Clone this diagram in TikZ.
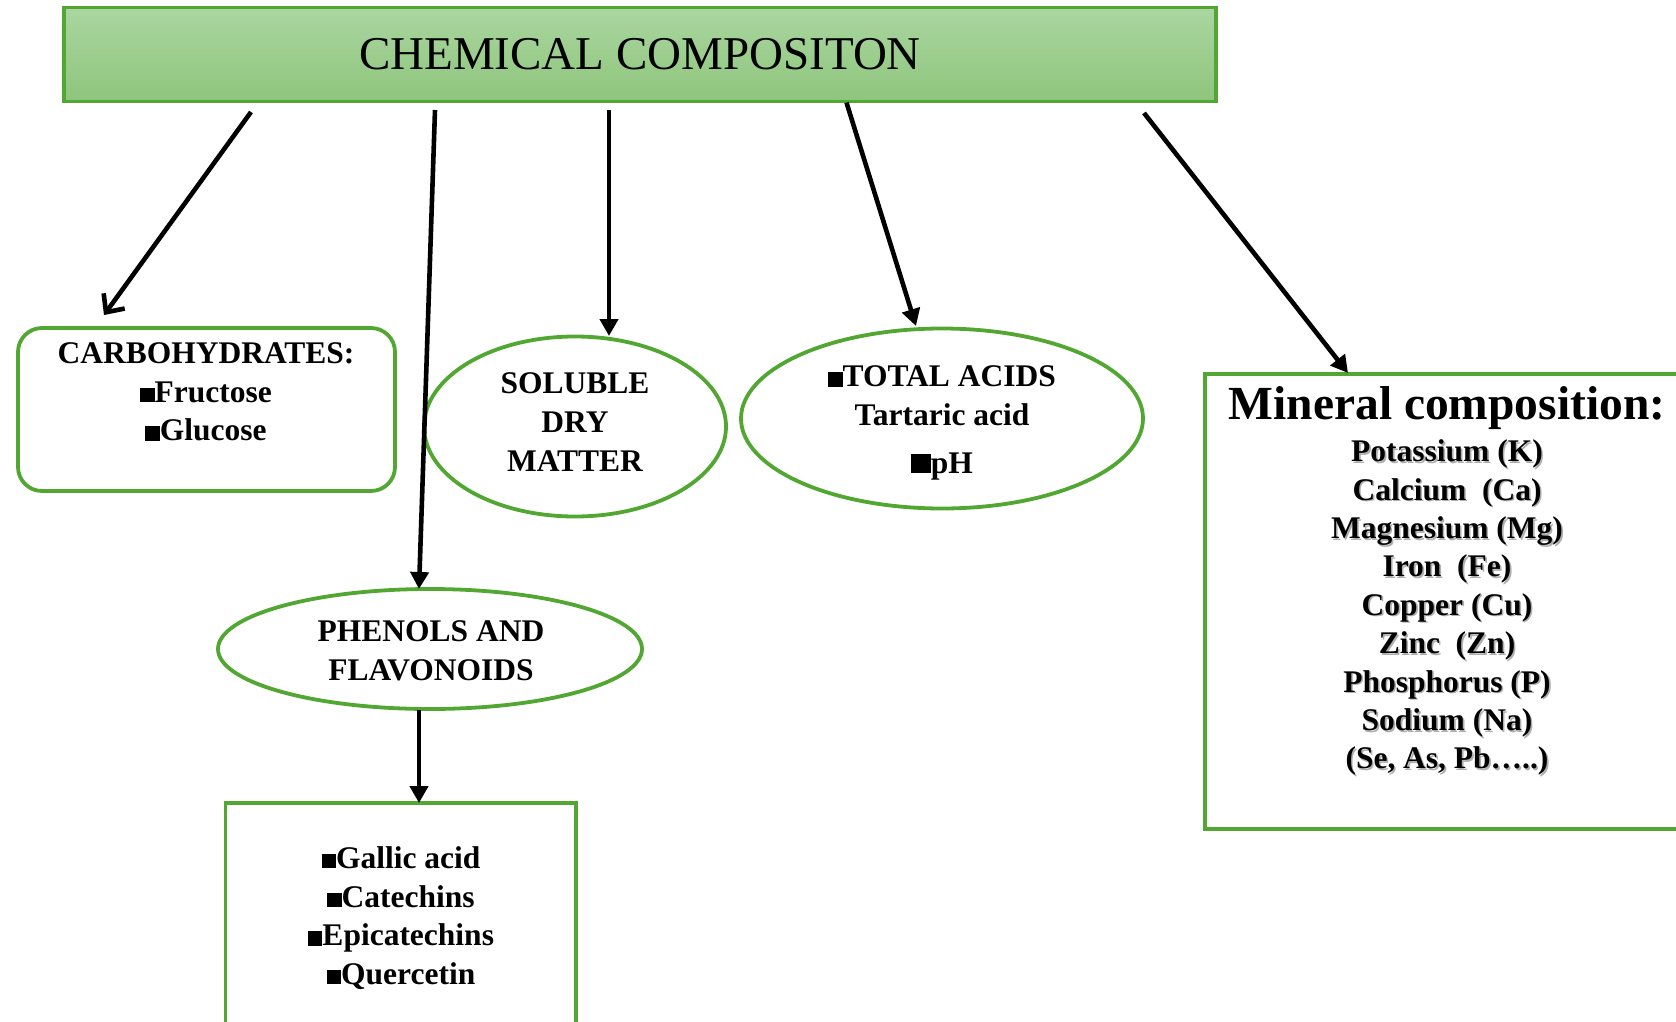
\documentclass[tikz,border=0pt]{standalone}
\usepackage{fontspec}
\setmainfont{Liberation Serif}
\usetikzlibrary{arrows.meta,shapes.geometric}
\definecolor{gr}{RGB}{82,166,50}
\definecolor{gtop}{RGB}{170,214,160}
\definecolor{gbot}{RGB}{142,197,124}
\definecolor{shd}{RGB}{175,175,175}
\newcommand{\bsq}{\rule{0.46em}{0.46em}}
\newcommand{\bigsq}{\rule{0.62em}{0.62em}}
\newcommand{\bodyfont}{\fontsize{31.5}{38.7}\selectfont\bfseries}
\newcommand{\minfont}{\fontsize{31.5}{38.4}\selectfont\bfseries}
\tikzset{
  grline/.style={draw=gr, line width=3.8pt},
  txt/.style={font=\bodyfont, align=center, inner sep=0pt},
  arr/.style={line width=4.6pt, -{Triangle[length=17pt,width=18pt]}},
  barb/.style={line width=4.6pt, -{Straight Barb[length=14pt,width=26pt]}},
  ell/.style={grline, ellipse, inner sep=0pt},
  box/.style={grline, rectangle, inner sep=0pt}
}
\begin{document}
\begin{tikzpicture}[x=1pt,y=-1pt]
\useasboundingbox (0,0) rectangle (1676,1022);
% top box
\node[box, top color=gtop, bottom color=gbot, minimum width=1152pt, minimum height=94pt,
      font=\fontsize{47}{50}\selectfont] (top) at (640,54.5) {CHEMICAL COMPOSITON};
% carbohydrates
\node[box, rounded corners=24pt, minimum width=377pt, minimum height=163pt] (carb) at (206.5,409.5) {};
\node[txt] (carbtxt) at (206,392) {CARBOHYDRATES:\\\bsq Fructose\\\bsq Glucose};
% soluble dry matter
\node[ell, minimum width=302pt, minimum height=180pt] (sol) at (575,426.5) {};
\node[txt] (soltxt) at (575,422) {SOLUBLE\\DRY\\MATTER};
% total acids
\node[ell, minimum width=402pt, minimum height=180pt] (acid) at (942,418.5) {};
\node[txt] (acidtxt) at (942,423) {\bsq TOTAL ACIDS\\Tartaric acid\\[9pt]\bigsq pH};
% phenols
\node[ell, minimum width=424pt, minimum height=120pt] (phen) at (430,649) {};
\node[txt] (phentxt) at (431,651) {PHENOLS AND\\FLAVONOIDS};
% gallic box
\node[box, minimum width=350.5pt, minimum height=240pt] (gall) at (400.75,923) {};
\node[txt] (galltxt) at (401,918) {\bsq Gallic acid\\\bsq Catechins\\\bsq Epicatechins\\\bsq Quercetin};
% mineral box
\node[box, minimum width=500pt, minimum height=455pt] (mine) at (1455,601.5) {};
\node[font=\fontsize{47.5}{50}\selectfont\bfseries, inner sep=0pt, anchor=base] (minetitle) at (1447,419) {Mineral composition:};
\node[txt, font=\minfont, text=shd] (mineshadow) at (1448.6,609.3) {Potassium (K)\\Calcium\ \ (Ca)\\Magnesium (Mg)\\Iron\ \ (Fe)\\Copper (Cu)\\Zinc\ \ (Zn)\\Phosphorus (P)\\Sodium (Na)\\(Se, As, Pb\ldots..)};
\node[txt, font=\minfont] (minetxt) at (1447,607.7) {Potassium (K)\\Calcium\ \ (Ca)\\Magnesium (Mg)\\Iron\ \ (Fe)\\Copper (Cu)\\Zinc\ \ (Zn)\\Phosphorus (P)\\Sodium (Na)\\(Se, As, Pb\ldots..)};
% connector coordinates
\coordinate (s1) at (251,112);
\coordinate (e1) at (104,315);
\coordinate (s2) at (435,110);
\coordinate (e2) at (419,589);
\coordinate (s3) at (609,110);
\coordinate (e3) at (609,336);
\coordinate (s4) at (846.5,102.6);
\coordinate (e4) at (916,326);
\coordinate (s5) at (1144,113);
\coordinate (e5) at (1348,373);
\coordinate (s6) at (419,710);
\coordinate (e6) at (419,803);
\draw[barb] (s1) -- (e1);
\draw[arr] (s2) -- (e2);
\draw[arr] (s3) -- (e3);
\draw[arr] (s4) -- (e4);
\draw[arr] (s5) -- (e5);
\draw[arr] (s6) -- (e6);
\end{tikzpicture}
\end{document}
